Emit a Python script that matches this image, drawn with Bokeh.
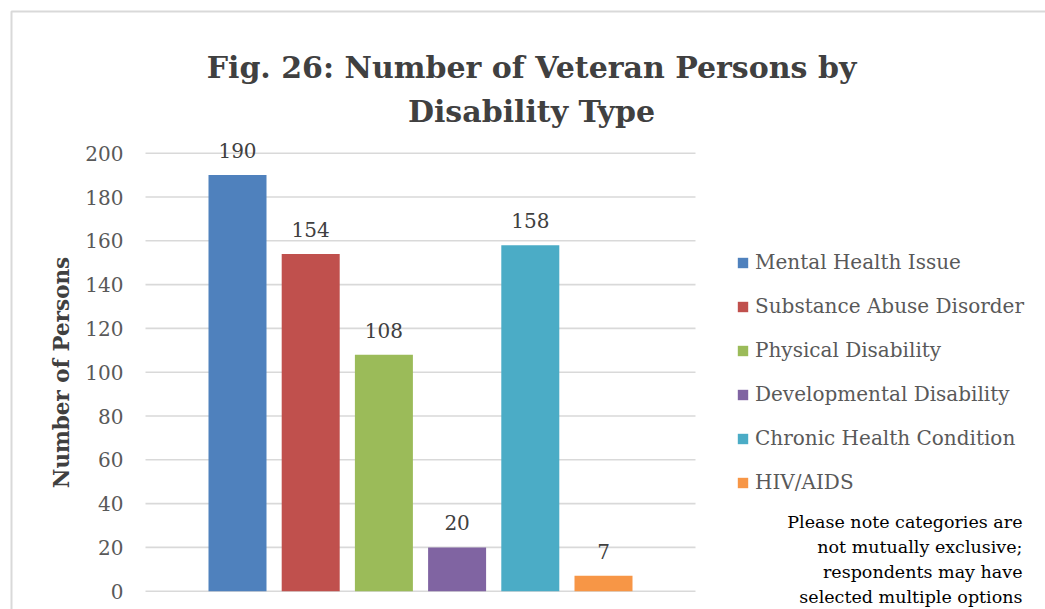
import math
from bokeh.plotting import figure
from bokeh.models import (ColumnDataSource, Range1d, Label, LabelSet,
                          Legend, LegendItem, BoxAnnotation)
from bokeh.core.properties import value
from bokeh.embed import file_html
from bokeh.resources import INLINE

# ---------------- data ----------------
categories = ["Mental Health Issue", "Substance Abuse Disorder", "Physical Disability",
              "Developmental Disability", "Chronic Health Condition", "HIV/AIDS"]
persons = [190, 154, 108, 20, 158, 7]
colors = ["#4F81BD", "#C0504D", "#9BBB59", "#8064A2", "#4BACC6", "#F79646"]
y_ticks = [0, 20, 40, 60, 80, 100, 120, 140, 160, 180, 200]
title_lines = ["Fig. 26: Number of Veteran Persons by", "Disability Type"]
y_label = "Number of Persons"
note_lines = ["Please note categories are", "not mutually exclusive;",
              "respondents may have", "selected multiple options"]

# ---------------- layout (pixels on the canvas) ----------------
W, H = 1045, 609
PX_X = 73.2            # pixels per category slot
X_FIRST_PX = 237.0     # pixel centre of the first bar
Y0_PX, Y200_PX = 590.7, 152.7
PX_Y = (Y0_PX - Y200_PX) / 200.0
FONT = "DejaVu Serif"

X0 = 1 - X_FIRST_PX / PX_X
X1 = X0 + W / PX_X
Y0 = -(H - Y0_PX) / PX_Y
Y1 = Y0_PX / PX_Y


def xd(px):
    return X0 + px / PX_X


def yd(py):
    return (Y0_PX - py) / PX_Y


xs = list(range(1, len(categories) + 1))
source = ColumnDataSource(dict(x=xs, top=persons, cat=categories, color=colors,
                               label=[str(v) for v in persons]))

p = figure(width=W, height=H, output_backend="svg", toolbar_location=None,
           x_range=Range1d(X0, X1), y_range=Range1d(Y0, Y1),
           x_axis_location=None, y_axis_location=None,
           min_border=0)
p.outline_line_color = None
p.background_fill_color = "white"
p.border_fill_color = "white"
p.grid.visible = False

# gridlines of the plot area
grid_src = ColumnDataSource(dict(x0=[xd(145)] * len(y_ticks), x1=[xd(695)] * len(y_ticks),
                                 y=y_ticks, lab=[str(t) for t in y_ticks]))
p.segment(x0="x0", x1="x1", y0="y", y1="y", source=grid_src,
          line_color="#D9D9D9", line_width=1.6)

# tick labels
p.text(x=xd(123), y="y", text="lab", source=grid_src, text_align="right",
       text_baseline="middle", text_font=value(FONT), text_font_size="20px",
       text_color="#595959")

# bars
r = p.vbar(x="x", top="top", bottom=0, width=58 / PX_X, fill_color="color",
           line_color=None, source=source)

# data labels
labels = LabelSet(x="x", y="top", text="label", source=source, y_offset=17,
                  text_align="center", text_baseline="alphabetic",
                  text_font=value(FONT), text_font_size="20px", text_color="#404040")
p.add_layout(labels)

# title
for line, py in zip(title_lines, [67, 111]):
    p.add_layout(Label(x=xd(531), y=yd(py), text=line, text_align="center",
                       text_baseline="alphabetic", text_font=FONT,
                       text_font_size="30px", text_font_style="bold",
                       text_color="#404040"))

# y axis title
p.add_layout(Label(x=xd(61), y=yd(372), text=y_label, angle=math.pi / 2,
                   text_align="center", text_baseline="middle", text_font=FONT,
                   text_font_size="21.5px", text_font_style="bold",
                   text_color="#404040"))

# legend
legend = Legend(items=[LegendItem(label=c, renderers=[r], index=i)
                       for i, c in enumerate(categories)],
                location=(736, 115), glyph_width=13, glyph_height=13,
                label_standoff=6, label_height=24, spacing=20, padding=0, margin=0,
                border_line_color=None, background_fill_alpha=0,
                label_text_font=FONT, label_text_font_size="20px",
                label_text_color="#595959")
p.add_layout(legend)

# note
for line, py in zip(note_lines, [521, 546, 571, 596]):
    p.add_layout(Label(x=xd(1022), y=yd(py), text=line, text_align="right",
                       text_baseline="middle", text_font=FONT,
                       text_font_size="17.5px", text_color="#000000"))

# chart border
p.add_layout(BoxAnnotation(left=xd(11), right=xd(1400), top=yd(11), bottom=yd(900),
                           fill_color=None, fill_alpha=0, line_color="#D9D9D9",
                           line_alpha=1.0, line_width=2))

open("out.html", "w").write(file_html(p, INLINE))
